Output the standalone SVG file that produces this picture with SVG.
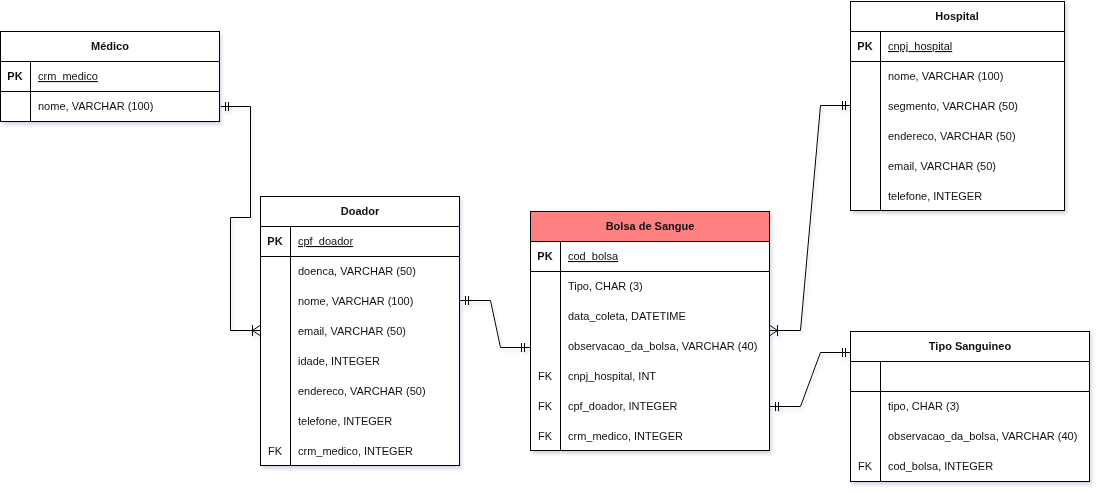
<svg xmlns="http://www.w3.org/2000/svg" width="1103" height="494" viewBox="0 0 1103 494">
<defs>
<filter id="sh" x="-10%" y="-10%" width="130%" height="130%">
<feDropShadow dx="2" dy="3" stdDeviation="1.5" flood-color="#6070a0" flood-opacity="0.25"/>
</filter>
</defs>
<style>
.box{fill:#ffffff;stroke:#000000;stroke-width:1}
.ln{fill:none;stroke:#000000;stroke-width:1}
.hd{font-family:"Liberation Sans",Arial,sans-serif;font-size:11px;font-weight:bold;fill:#111;text-anchor:middle}
.tx{font-family:"Liberation Sans",Arial,sans-serif;font-size:11px;fill:#111}
.pk{font-family:"Liberation Sans",Arial,sans-serif;font-size:11px;font-weight:bold;fill:#111;text-anchor:middle}
.fk{font-family:"Liberation Sans",Arial,sans-serif;font-size:11px;fill:#111;text-anchor:middle}
.ul{text-decoration:underline}
.con{fill:none;stroke:#000000;stroke-width:1}
</style>
<rect x="0" y="0" width="1103" height="494" fill="#ffffff"/>

<g id="connectors" filter="url(#sh)">
<path class="con" d="M220.5 106.5 H250.5 V217.5 H230.5 V330.5 H260"/>
<path class="con" d="M225.5 102 V111 M228.5 102 V111"/>
<path class="con" d="M252.5 325 V336 M252.5 330.5 L260 325.5 M252.5 330.5 L260 335.5"/>

<path class="con" d="M460 300.5 H490.5 L500.5 347.5 H530"/>
<path class="con" d="M465.5 296 V305 M468.5 296 V305 M521.5 343 V352 M524.5 343 V352"/>

<path class="con" d="M770 330.5 H800.5 L820.5 105.5 H850"/>
<path class="con" d="M777.5 325 V336 M777.5 330.5 L770 325.5 M777.5 330.5 L770 335.5"/>
<path class="con" d="M842.5 101 V110 M845.5 101 V110"/>

<path class="con" d="M770 406.5 H800.5 L820.5 352.5 H850"/>
<path class="con" d="M775.5 402 V411 M778.5 402 V411 M842.5 348 V357 M845.5 348 V357"/>
</g>

<g id="medico" filter="url(#sh)">
<rect class="box" x="0.5" y="31.5" width="219" height="90"/>
<path class="ln" d="M0.5 61.5 H219.5 M0.5 91.5 H219.5 M30.5 61.5 V121.5"/>
<text class="hd" x="110" y="50">Médico</text>
<text class="pk" x="15" y="80">PK</text>
<text class="tx ul" x="38" y="80">crm_medico</text>
<text class="tx" x="38" y="110">nome, VARCHAR (100)</text>
</g>

<g id="doador" filter="url(#sh)">
<rect class="box" x="260.5" y="196.5" width="199" height="269"/>
<path class="ln" d="M260.5 226.5 H459.5 M260.5 256.5 H459.5 M290.5 226.5 V465.5"/>
<text class="hd" x="360" y="215">Doador</text>
<text class="pk" x="275" y="245">PK</text>
<text class="tx ul" x="298" y="245">cpf_doador</text>
<text class="tx" x="298" y="275">doenca, VARCHAR (50)</text>
<text class="tx" x="298" y="305">nome, VARCHAR (100)</text>
<text class="tx" x="298" y="335">email, VARCHAR (50)</text>
<text class="tx" x="298" y="365">idade, INTEGER</text>
<text class="tx" x="298" y="395">endereco, VARCHAR (50)</text>
<text class="tx" x="298" y="425">telefone, INTEGER</text>
<text class="fk" x="275" y="455">FK</text>
<text class="tx" x="298" y="455">crm_medico, INTEGER</text>
</g>

<g id="bolsa" filter="url(#sh)">
<rect class="box" x="530.5" y="211.5" width="239" height="239"/>
<rect x="530.5" y="211.5" width="239" height="30" fill="#ff8080" stroke="#000" stroke-width="1"/>
<path class="ln" d="M530.5 271.5 H769.5 M560.5 241.5 V450.5"/>
<text class="hd" x="650" y="230">Bolsa de Sangue</text>
<text class="pk" x="545" y="260">PK</text>
<text class="tx ul" x="568" y="260">cod_bolsa</text>
<text class="tx" x="568" y="290">Tipo, CHAR (3)</text>
<text class="tx" x="568" y="320">data_coleta, DATETIME</text>
<text class="tx" x="568" y="350">observacao_da_bolsa, VARCHAR (40)</text>
<text class="fk" x="545" y="380">FK</text>
<text class="tx" x="568" y="380">cnpj_hospital, INT</text>
<text class="fk" x="545" y="410">FK</text>
<text class="tx" x="568" y="410">cpf_doador, INTEGER</text>
<text class="fk" x="545" y="440">FK</text>
<text class="tx" x="568" y="440">crm_medico, INTEGER</text>
</g>

<g id="hospital" filter="url(#sh)">
<rect class="box" x="850.5" y="1.5" width="214" height="209"/>
<path class="ln" d="M850.5 31.5 H1064.5 M850.5 61.5 H1064.5 M880.5 31.5 V210.5"/>
<text class="hd" x="957" y="20">Hospital</text>
<text class="pk" x="865" y="50">PK</text>
<text class="tx ul" x="888" y="50">cnpj_hospital</text>
<text class="tx" x="888" y="80">nome, VARCHAR (100)</text>
<text class="tx" x="888" y="110">segmento, VARCHAR (50)</text>
<text class="tx" x="888" y="140">endereco, VARCHAR (50)</text>
<text class="tx" x="888" y="170">email, VARCHAR (50)</text>
<text class="tx" x="888" y="200">telefone, INTEGER</text>
</g>

<g id="tipo-sanguineo" filter="url(#sh)">
<rect class="box" x="850.5" y="331.5" width="239" height="150"/>
<path class="ln" d="M850.5 361.5 H1089.5 M850.5 391.5 H1089.5 M880.5 361.5 V481.5"/>
<text class="hd" x="970" y="350">Tipo Sanguineo</text>
<text class="tx" x="888" y="410">tipo, CHAR (3)</text>
<text class="tx" x="888" y="440">observacao_da_bolsa, VARCHAR (40)</text>
<text class="fk" x="865" y="470">FK</text>
<text class="tx" x="888" y="470">cod_bolsa, INTEGER</text>
</g>
</svg>
